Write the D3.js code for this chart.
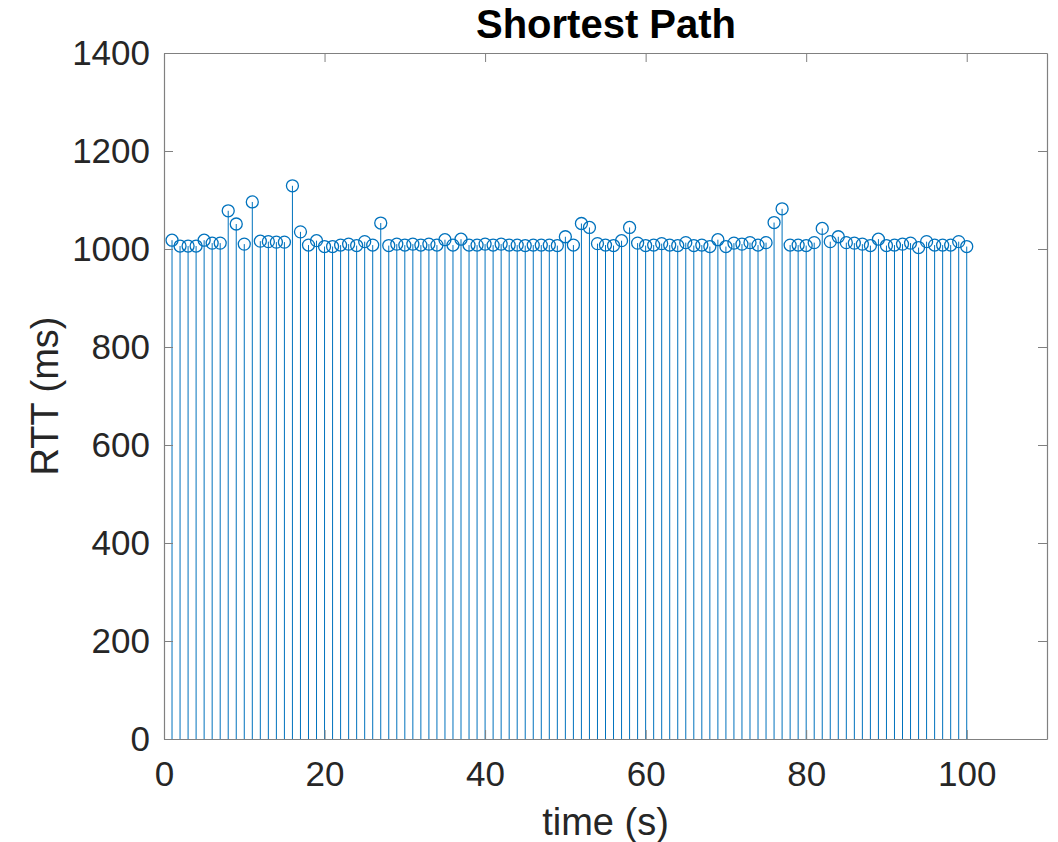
<!DOCTYPE html>
<html>
<head>
<meta charset="utf-8">
<script src="https://cdn.jsdelivr.net/npm/d3@7"></script>
<style>
  html, body { margin: 0; padding: 0; background: #fff; }
  svg { display: block; }
  text { font-family: "Liberation Sans", Arial, Helvetica, sans-serif; fill: #262626; }
</style>
</head>
<body>
<svg id="chart" width="1058" height="842"></svg>
<script>
// Round-trip time per second along the shortest path
const times = d3.range(1, 101);
const rtt = [
  1018, 1006, 1006, 1006, 1018, 1012, 1012, 1078, 1051, 1010,
  1096, 1016, 1015, 1014, 1014, 1129, 1035, 1008, 1017, 1005,
  1005, 1008, 1010, 1007, 1015, 1008, 1053, 1007, 1010, 1008,
  1010, 1008, 1010, 1008, 1019, 1008, 1020, 1008, 1008, 1010,
  1008, 1010, 1008, 1008, 1007, 1008, 1008, 1008, 1007, 1025,
  1008, 1052, 1044, 1011, 1008, 1007, 1017, 1044, 1012, 1007,
  1008, 1011, 1008, 1007, 1013, 1007, 1008, 1005, 1019, 1005,
  1012, 1010, 1013, 1008, 1013, 1054, 1082, 1008, 1008, 1007,
  1013, 1042, 1015, 1025, 1013, 1012, 1010, 1007, 1020, 1007,
  1008, 1010, 1012, 1003, 1015, 1008, 1008, 1008, 1015, 1005
];
const xTicks = [0, 20, 40, 60, 80, 100];
const yTicks = [0, 200, 400, 600, 800, 1000, 1200, 1400];

const svg = d3.select("#chart");
const margin = { left: 164, right: 11, top: 53, bottom: 103 };
const W = 1058, H = 842;
const iw = W - margin.left - margin.right;
const ih = H - margin.top - margin.bottom;

const x = d3.scaleLinear().domain([0, 110]).range([0, iw]);
const y = d3.scaleLinear().domain([0, 1400]).range([ih, 0]);

const g = svg.append("g").attr("transform", `translate(${margin.left},${margin.top})`);
const blue = "#0072BD";
const axisColor = "#808080";
const tickLen = 9;

// stems
g.append("g").selectAll("line").data(times).join("line")
  .attr("x1", (d) => x(d)).attr("x2", (d) => x(d))
  .attr("y1", y(0)).attr("y2", (d, i) => y(rtt[i]))
  .attr("stroke", blue).attr("stroke-width", 1);

// markers
g.append("g").selectAll("circle").data(times).join("circle")
  .attr("cx", (d) => x(d)).attr("cy", (d, i) => y(rtt[i]))
  .attr("r", 6)
  .attr("fill", "none").attr("stroke", blue).attr("stroke-width", 1.3);

// axes with inward ticks on all four sides
function styleAxis(sel) {
  sel.select(".domain").attr("stroke", axisColor).attr("stroke-width", 1.2);
  sel.selectAll(".tick line").attr("stroke", axisColor).attr("stroke-width", 1);
}
const fmt = d3.format("d");
const axBottom = g.append("g").attr("transform", `translate(0,${ih})`)
  .call(d3.axisBottom(x).tickValues(xTicks).tickFormat(fmt).tickSizeInner(-tickLen).tickSizeOuter(0).tickPadding(22));
styleAxis(axBottom);
axBottom.selectAll("text").attr("font-size", 35).style("font-family", "Liberation Sans, Arial, sans-serif").attr("fill", "#262626");

const axTop = g.append("g")
  .call(d3.axisTop(x).tickValues(xTicks).tickSizeInner(-tickLen).tickSizeOuter(0).tickFormat(""));
styleAxis(axTop);

const axLeft = g.append("g")
  .call(d3.axisLeft(y).tickValues(yTicks).tickFormat(fmt).tickSizeInner(-tickLen).tickSizeOuter(0).tickPadding(14));
styleAxis(axLeft);
axLeft.selectAll("text").attr("font-size", 35).style("font-family", "Liberation Sans, Arial, sans-serif").attr("fill", "#262626");

const axRight = g.append("g").attr("transform", `translate(${iw},0)`)
  .call(d3.axisRight(y).tickValues(yTicks).tickSizeInner(-tickLen).tickSizeOuter(0).tickFormat(""));
styleAxis(axRight);

// title and axis labels
svg.append("text")
  .attr("x", 606).attr("y", 38)
  .attr("text-anchor", "middle").attr("font-size", 40).attr("font-weight", "bold")
  .style("fill", "#000")
  .text("Shortest Path");

svg.append("text")
  .attr("x", margin.left + iw / 2).attr("y", 835)
  .attr("text-anchor", "middle").attr("font-size", 38)
  .text("time (s)");

svg.append("text")
  .attr("transform", `translate(58,${margin.top + ih / 2}) rotate(-90)`)
  .attr("text-anchor", "middle").attr("font-size", 38)
  .text("RTT (ms)");
</script>
</body>
</html>
